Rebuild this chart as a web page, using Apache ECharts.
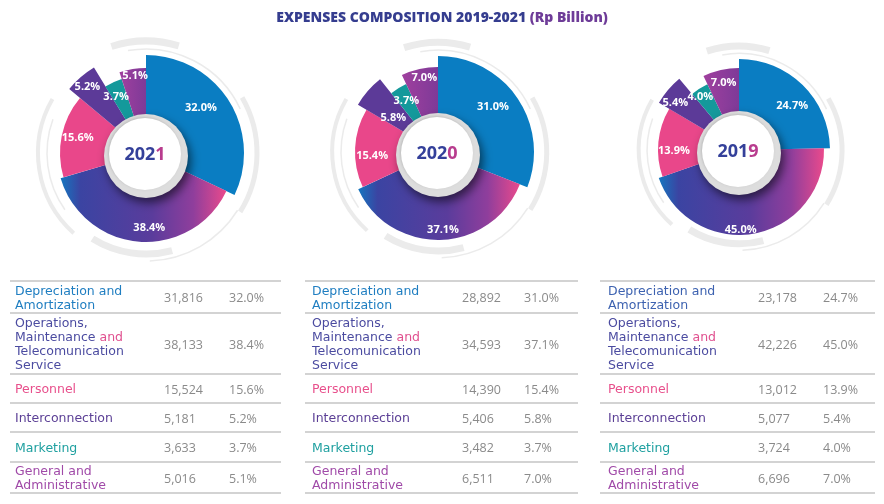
<!DOCTYPE html>
<html><head><meta charset="utf-8">
<script src="https://cdn.jsdelivr.net/npm/echarts@6.0.0/dist/echarts.min.js"></script>
<style>html,body{margin:0;padding:0;background:#fff}#c{width:884px;height:504px}</style>
</head><body><div id="c"></div>
<script>
// ---------- DATA ----------
const categories = ['Depreciation and Amortization','Operations, Maintenance and Telecomunication Service','Personnel','Interconnection','Marketing','General and Administrative'];
const tableLabels = ['Depreciation and\nAmortization','Operations,\nMaintenance {p|and}\nTelecomunication\nService','Personnel','Interconnection','Marketing','General and\nAdministrative'];
const years = ['2021','2020','2019'];
const values2021 = [31816,38133,15524,5181,3633,5016];
const values2020 = [28892,34593,14390,5406,3482,6511];
const values2019 = [23178,42226,13012,5077,3724,6696];
const pct2021 = [32.0,38.4,15.6,5.2,3.7,5.1];
const pct2020 = [31.0,37.1,15.4,5.8,3.7,7.0];
const pct2019 = [24.7,45.0,13.9,5.4,4.0,7.0];
const titleText = 'EXPENSES COMPOSITION 2019-2021 ';
const titleUnit = '(Rp Billion)';

// ---------- STYLE / LAYOUT ----------
const allValues = [values2021, values2020, values2019];
const allPct = [pct2021, pct2020, pct2019];
const opsGrad = () => new echarts.graphic.LinearGradient(0,0,1,0,[
  {offset:0,color:'#1576bf'},{offset:0.12,color:'#3b44a2'},{offset:0.55,color:'#5a3c9c'},{offset:0.8,color:'#8f3e9c'},{offset:1,color:'#ea4a8c'}]);
const genGrad = () => new echarts.graphic.LinearGradient(0,0,1,0,[{offset:0,color:'#a0409e'},{offset:1,color:'#7e3a98'}]);
const sliceColors = ['#0a7dc2', null, '#e9478a', '#5c3a98', '#14999b', null];
const tableColors = [
  ['#1f7ec1','#4b4ba0','#e8508c','#5c4096','#1fa0a0','#a04aa8'],
  ['#1f7ec1','#4b4ba0','#e8508c','#5c4096','#1fa0a0','#a04aa8'],
  ['#3d62b0','#4b4ba0','#e8508c','#5c4096','#1fa0a0','#a04aa8']
];
// label placement: radius and angular shift (deg, clockwise) from slice mid-angle
const pieLayout = [
  {c:[146,153], R:[98,89,86,100,78,85], labelR:[68,72,67,85,61,75], shift:[-7,-7,1,-1,-3,1]},
  {c:[438,152], R:[96,88,83,93,75,85], labelR:[68,75,63,53,57,72], shift:[-5,-2,-6,-4,0,2]},
  {c:[739,150], R:[91,85,81,93,73,82], labelR:[66,77,62,76,63,66], shift:[6,9,-6,-4,-3,0]}
];
const innerR = 38;
const deco = [
  {r:112,w:7,a0:-18,a1:17},
  {r:104,w:1.5,a0:-10,a1:65},
  {r:111,w:5,a0:60,a1:122},
  {r:108,w:1.5,a0:122,a1:178},
  {r:101,w:7,a0:165,a1:212},
  {r:108,w:4,a0:222,a1:300},
  {r:99,w:1.5,a0:235,a1:290}
];
const tables = [
  {tx:15, vx:164, px:229, l0:10, l1:281},
  {tx:312, vx:462, px:524, l0:305, l1:578},
  {tx:608, vx:758, px:823, l0:600, l1:875}
];
const rowLines = [281,313,374,403,432,462,493];

const series = [];
const graphics = [];
const rad = d => (d-90)*Math.PI/180;

pieLayout.forEach((L,p)=>{
  const vals = allValues[p], pcts = allPct[p];
  for(let i=0;i<6;i++){
    const col = i===1 ? opsGrad() : (i===5 ? genGrad() : sliceColors[i]);
    series.push({type:'pie', center:L.c, radius:[innerR, L.R[i]], startAngle:90, clockwise:true,
      silent:true, animation:false, z:2, label:{show:false}, labelLine:{show:false},
      itemStyle:{borderWidth:0},
      data: vals.map((v,j)=>({value:v, name:categories[j], itemStyle:{color: j===i ? col : 'rgba(0,0,0,0)'}}))});
    const lr = L.labelR[i];
    series.push({type:'pie', center:L.c, radius:[lr-1, lr+1], startAngle:90 - L.shift[i], clockwise:true,
      silent:true, animation:false, z:5, labelLine:{show:false}, avoidLabelOverlap:false,
      labelLayout:{hideOverlap:false},
      label:{show:true, position:'inside', color:'#fff', fontFamily:'Open Sans', fontWeight:'bold', fontSize:11},
      itemStyle:{borderWidth:0},
      data: vals.map((v,j)=>({value:v, name:categories[j], itemStyle:{color:'rgba(0,0,0,0)'},
        label:{show:j===i, formatter: pcts[j].toFixed(1)+'%'}}))});
  }
  const s = L.R[0]/98;
  deco.forEach(d=>{
    graphics.push({type:'arc', z:1, silent:true,
      shape:{cx:L.c[0], cy:L.c[1], r:d.r*s, startAngle:rad(d.a0), endAngle:rad(d.a1), clockwise:true},
      style:{stroke:'#ebebeb', lineWidth:d.w, fill:null}});
  });
  const dx = L.c[0], dy = L.c[1]+3;
  graphics.push({type:'circle', z:50, silent:true, shape:{cx:dx, cy:dy, r:42},
    style:{fill:'#dddddd', shadowBlur:10, shadowColor:'rgba(0,0,0,0.55)', shadowOffsetX:3, shadowOffsetY:5}});
  graphics.push({type:'circle', z:51, silent:true, shape:{cx:dx-1, cy:dy-2, r:36},
    style:{fill:'#ffffff', shadowBlur:3, shadowColor:'rgba(0,0,0,0.15)', shadowOffsetX:-1, shadowOffsetY:-1}});
  const y = years[p];
  graphics.push({type:'text', z:52, silent:true, x:dx-1, y:dy-1,
    style:{text:'{a|'+y.slice(0,3)+'}{b|'+y.slice(3)+'}', align:'center', verticalAlign:'middle',
      rich:{a:{fill:'#34409a', font:'bold 18px "Open Sans"'}, b:{fill:'#b83c8e', font:'bold 18px "Open Sans"'}}}});
});

tables.forEach((T,p)=>{
  rowLines.forEach(y=>{
    graphics.push({type:'line', silent:true, shape:{x1:T.l0, y1:y, x2:T.l1, y2:y}, style:{stroke:'#c4c4c4', lineWidth:1.5}});
  });
  for(let i=0;i<6;i++){
    const yc = (rowLines[i]+rowLines[i+1])/2 + 1.5;
    graphics.push({type:'text', silent:true, x:T.tx, y:yc,
      style:{text:tableLabels[i], fill:tableColors[p][i], font:'12.5px "DejaVu Sans"', lineHeight:14, align:'left', verticalAlign:'middle',
        rich:{p:{fill:'#e0508f', font:'12.5px "DejaVu Sans"', lineHeight:14}}}});
    graphics.push({type:'text', silent:true, x:T.vx, y:yc,
      style:{text:allValues[p][i].toLocaleString('en-US'), fill:'#8a8a8a', font:'12.5px "Open Sans"', align:'left', verticalAlign:'middle'}});
    graphics.push({type:'text', silent:true, x:T.px, y:yc,
      style:{text:allPct[p][i].toFixed(1)+'%', fill:'#8a8a8a', font:'12.5px "Open Sans"', align:'left', verticalAlign:'middle'}});
  }
});

const chart = echarts.init(document.getElementById('c'), null, {renderer:'canvas'});
chart.setOption({
  backgroundColor:'#ffffff',
  animation:false,
  title:{text:'{a|'+titleText+'}{b|'+titleUnit+'}', left:'center', top:6,
    textStyle:{rich:{a:{color:'#353d8f', fontFamily:'Open Sans', fontWeight:800, fontSize:14}, b:{color:'#6e3c98', fontFamily:'Open Sans', fontWeight:800, fontSize:14}}}},
  series: series,
  graphic: graphics
});
</script>
</body></html>
